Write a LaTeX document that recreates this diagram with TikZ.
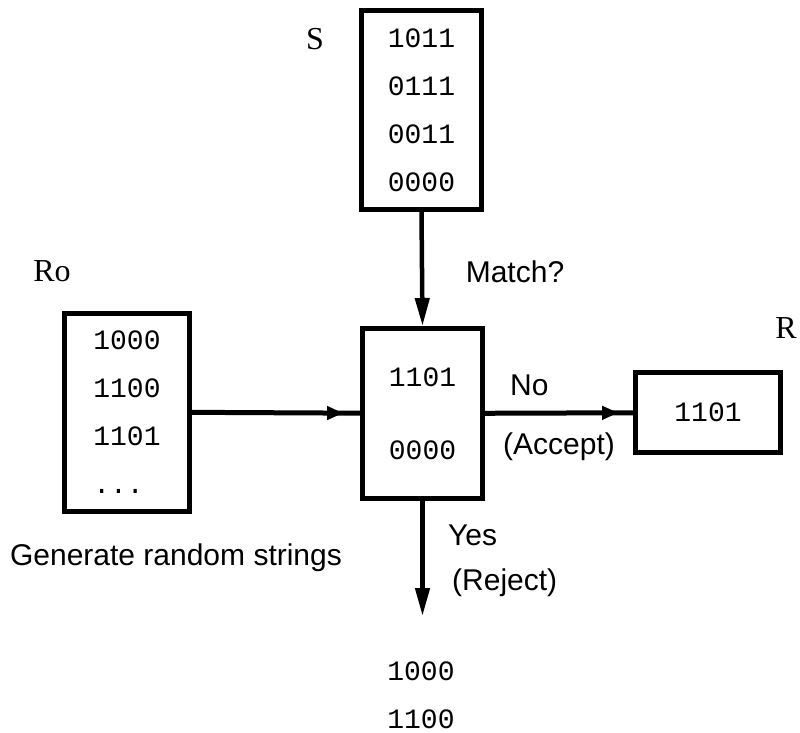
\documentclass[tikz,border=0pt]{standalone}
\usepackage{fontspec}
\setmainfont{Liberation Serif}
\setsansfont{Liberation Sans}
\newfontfamily\bitfamily{Liberation Mono}
\usetikzlibrary{arrows.meta,decorations.markings,positioning}
\newcommand\bitfont{\fontsize{28}{48}\bitfamily}
\newcommand\capfont{\fontsize{30}{36}\sffamily\selectfont}
\newcommand\setfont{\fontsize{32}{38}\rmfamily\selectfont}

\begin{document}
\begin{tikzpicture}[%
    x=1pt, y=-1pt,              % one unit per pixel, y going down
    node distance=10pt]
% -------------------------------------------------
% box and connector styles
\tikzset{
  strbox/.style={draw, line width=5pt, inner sep=0pt, font=\bitfont, align=center},
  strlist/.style={inner sep=0pt, font=\bitfont, align=center},
  tag/.style={inner sep=0pt, font=\setfont},
  lbl/.style={inner sep=0pt, font=\capfont},
  % straight drop with the head at the end
  conn/.style={draw, line width=4.5pt, -{Triangle[length=28pt,width=14pt]}},
  % sideways flow, head sits a bit before the box
  flow/.style={draw, line width=5pt, postaction={decorate},
    decoration={markings, mark=at position 0.9 with
      {\arrow{Triangle[length=16pt,width=13pt]}}}}
}
\useasboundingbox (0,0) rectangle (800,733);
% -------------------------------------------------
% the boxes
\node [strbox, minimum width=120pt, minimum height=170pt] (mid) at (422.5,413.5)
  {1101\\[25pt]0000};
\node [strbox, minimum width=120pt, minimum height=199pt] (sset) at (421.5,110)
  {1011\\0111\\0011\\0000};
\node [strbox, align=left, minimum width=125pt, minimum height=198pt] (ro) at (127,412)
  {1000\\1100\\1101\\...};
\node [strbox, minimum width=145pt, minimum height=80pt] (rbox) at (708,412.5) {1101};
\node [strlist] (rej) at (421,695.5) {1000\\1100};

% -------------------------------------------------
% set names
\node [tag, anchor=base] (slbl) at (315,50) {S};
\node [tag, anchor=base] (rolbl) at (52,281) {Ro};
\node [tag, anchor=base] (rlbl) at (786,338) {R};

% annotations
\node [lbl, anchor=base] (match) at (515,282) {Match?};
\node [lbl, anchor=base west] (no) at (510,395) {No};
\node [lbl, anchor=base west] (acc) at (503,454) {(Accept)};
\node [lbl, anchor=base west] (yes) at (448,545) {Yes};
\node [lbl, anchor=base west] (rjt) at (452,590) {(Reject)};
\node [lbl, anchor=base] (gen) at (176,565) {Generate random strings};

% -------------------------------------------------
% connectors
\draw [conn] (sset.south) -- (mid.north);
\draw [flow] (ro) -- (mid);
\draw [flow] (mid) -- (rbox);
\coordinate [below=115pt of mid.south] (drop);
\draw [conn] (mid.south) -- (drop);
\end{tikzpicture}
\end{document}
